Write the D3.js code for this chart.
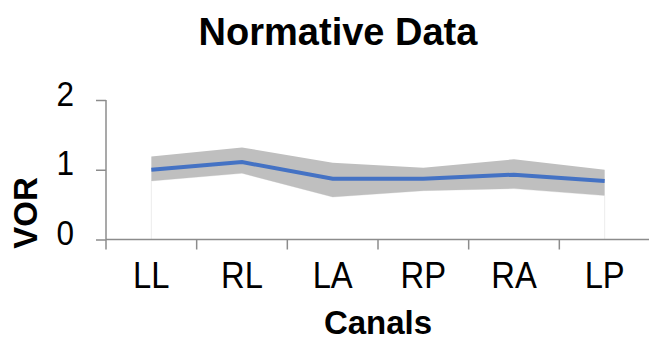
<!DOCTYPE html>
<html>
<head>
<meta charset="utf-8">
<script src="https://cdn.jsdelivr.net/npm/d3@7"></script>
<style>
  html, body { margin: 0; padding: 0; background: #fff; }
  svg { display: block; }
  text { font-family: "Liberation Sans", Arial, sans-serif; fill: #000; }
</style>
</head>
<body>
<svg id="chart" width="649" height="340"></svg>
<script>
const categories = ["LL", "RL", "LA", "RP", "RA", "LP"];
const meanValues = [1.00, 1.11, 0.87, 0.87, 0.93, 0.84];
const upperValues = [1.19, 1.32, 1.10, 1.03, 1.15, 1.00];
const lowerValues = [0.84, 0.95, 0.61, 0.70, 0.73, 0.63];
const yTicks = [0, 1, 2];

(function () {
const svg = d3.select("#chart");
const plotLeft = 106, plotRight = 650, plotTop = 100, plotBottom = 239.5;
const axisColor = "#8c8c8c";
const squeeze = function (f) {
  return function () {
    const w = this.getComputedTextLength();
    d3.select(this).attr("textLength", w * f).attr("lengthAdjust", "spacingAndGlyphs");
  };
};

const x = d3.scaleBand().domain(categories).range([plotLeft, plotRight]).padding(0);
const y = d3.scaleLinear().domain([0, 2]).range([plotBottom, plotTop]);
const cx = d => x(d) + x.bandwidth() / 2;

const rows = categories.map((c, i) => ({c, m: meanValues[i], u: upperValues[i], l: lowerValues[i]}));

// lower (white) area, as in stacked area chart
svg.append("path")
  .datum(rows)
  .attr("d", d3.area().x(d => cx(d.c)).y0(y(0)).y1(d => y(d.l)))
  .attr("fill", "#fff")
  .attr("stroke", "#ececec")
  .attr("stroke-width", 1);

// gray band
svg.append("path")
  .datum(rows)
  .attr("d", d3.area().x(d => cx(d.c)).y0(d => y(d.l)).y1(d => y(d.u)))
  .attr("fill", "#bfbfbf");

// mean line
svg.append("path")
  .datum(rows)
  .attr("d", d3.line().x(d => cx(d.c)).y(d => y(d.m)))
  .attr("fill", "none")
  .attr("stroke", "#4472c4")
  .attr("stroke-width", 4);

// y axis
const yAxis = svg.append("g").attr("transform", `translate(${plotLeft},0)`)
  .call(d3.axisLeft(y).tickValues(yTicks).tickSize(10).tickPadding(22).tickFormat(d3.format("d")));
yAxis.select(".domain").attr("stroke", axisColor).attr("stroke-width", 1.5)
  .attr("d", `M0,${plotTop}V${plotBottom}`);
yAxis.selectAll(".tick line").attr("stroke", axisColor).attr("stroke-width", 1.5);
yAxis.selectAll(".tick text").attr("font-size", 35).attr("dy", 5)
  .style("font-family", "'Liberation Sans', Arial, sans-serif").attr("fill", "#000")
  .each(squeeze(0.9));

// x axis
const xAxis = svg.append("g").attr("transform", `translate(0,${plotBottom})`)
  .call(d3.axisBottom(x).tickSize(0).tickPadding(0));
xAxis.select(".domain").attr("stroke", axisColor).attr("stroke-width", 1.5)
  .attr("d", `M${plotLeft},0H649`);
xAxis.selectAll(".tick text").attr("font-size", 36).attr("y", 48).attr("dy", 0)
  .style("font-family", "'Liberation Sans', Arial, sans-serif").attr("fill", "#000")
  .each(squeeze(0.91));
// tick marks at category boundaries
const boundaries = categories.map(c => x(c)).concat([x(categories[categories.length - 1]) + x.bandwidth()]);
xAxis.selectAll(".bound").data(boundaries).enter().append("line")
  .attr("class", "bound")
  .attr("x1", d => d).attr("x2", d => d)
  .attr("y1", 0).attr("y2", 10)
  .attr("stroke", axisColor).attr("stroke-width", 1.5);

// title
svg.append("text").attr("x", 338).attr("y", 45).attr("text-anchor", "middle")
  .attr("font-size", 38).attr("font-weight", "bold").text("Normative Data");

// axis titles
svg.append("text").attr("x", 378).attr("y", 334).attr("text-anchor", "middle")
  .attr("font-size", 33).attr("font-weight", "bold").text("Canals");
svg.append("text").attr("transform", "translate(37,213) rotate(-90)").attr("text-anchor", "middle")
  .attr("font-size", 33).attr("font-weight", "bold").text("VOR");
})();
</script>
</body>
</html>
